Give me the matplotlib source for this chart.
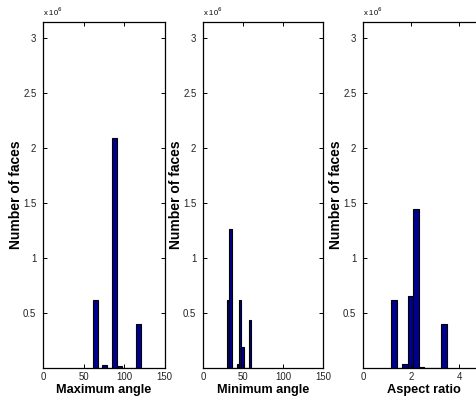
import matplotlib
matplotlib.use("Agg")
import matplotlib.pyplot as plt

plt.rcParams['font.family'] = ['Liberation Sans', 'DejaVu Sans']

# ---- data (counts in millions of faces) ----
max_angle_centers = [64, 70, 76, 82, 88, 94, 100, 106, 112, 118]
max_angle_counts = [0.62, 0, 0.03, 0, 2.09, 0.015, 0, 0, 0, 0.40]

min_angle_centers = [31.0, 34.1, 37.1, 40.2, 43.2, 46.3, 49.3, 52.4, 55.4, 58.5]
min_angle_counts = [0.62, 1.26, 0, 0, 0.04, 0.62, 0.19, 0, 0, 0.44]

aspect_centers = [1.27, 1.50, 1.74, 1.97, 2.20, 2.43, 2.66, 2.90, 3.13, 3.36]
aspect_counts = [0.62, 0, 0.035, 0.655, 1.445, 0.006, 0.003, 0.003, 0.003, 0.40]

x_labels = ["Maximum angle", "Minimum angle", "Aspect ratio"]
y_label = "Number of faces"
y_ticks = [0.5, 1, 1.5, 2, 2.5, 3]
y_tick_labels = ["0.5", "1", "1.5", "2", "2.5", "3"]

panels = [
    (max_angle_centers, max_angle_counts, 6.0, (0, 150), [0, 50, 100, 150]),
    (min_angle_centers, min_angle_counts, 3.05, (0, 150), [0, 50, 100, 150]),
    (aspect_centers, aspect_counts, 0.2325, (0, 5.04), [0, 2, 4]),
]

W, H = 476, 403
fig = plt.figure(figsize=(W / 100, H / 100), dpi=100)

lefts = [43.3, 203.3, 363.3]
widths = [121.5, 119.7, 121.0]
top, bottom = 22, 368

bar_color = (0, 0, 0.5625)

for i, (centers, counts, bw, xlim, xticks) in enumerate(panels):
    ax = fig.add_axes([lefts[i] / W, 1 - bottom / H, widths[i] / W, (bottom - top) / H])
    ax.bar(centers, counts, width=bw, color=bar_color, edgecolor='black',
           linewidth=0.8, align='center')
    ax.set_xlim(*xlim)
    ax.set_ylim(0, 3.145)
    ax.set_xticks(xticks)
    ax.set_xticklabels([str(t) for t in xticks])
    ax.set_yticks(y_ticks)
    ax.set_yticklabels(y_tick_labels)
    ax.tick_params(direction='in', length=3, width=0.7, labelsize=6.9,
                   top=True, right=True, colors='black', labelcolor='#222222')
    ax.tick_params(axis='y', pad=5)
    ax.tick_params(axis='x', pad=3)
    for s in ax.spines.values():
        s.set_linewidth(0.9)
    ax.set_xlabel(x_labels[i], fontsize=9.2, fontweight='bold', labelpad=1.5)
    ax.set_ylabel(y_label, fontsize=10, fontweight='bold', labelpad=0)
    ax.text(0.0, 1.012, r"x 10$^6$", transform=ax.transAxes, fontsize=5.5,
            ha='left', va='bottom')

fig.savefig("out.png", dpi=100)
